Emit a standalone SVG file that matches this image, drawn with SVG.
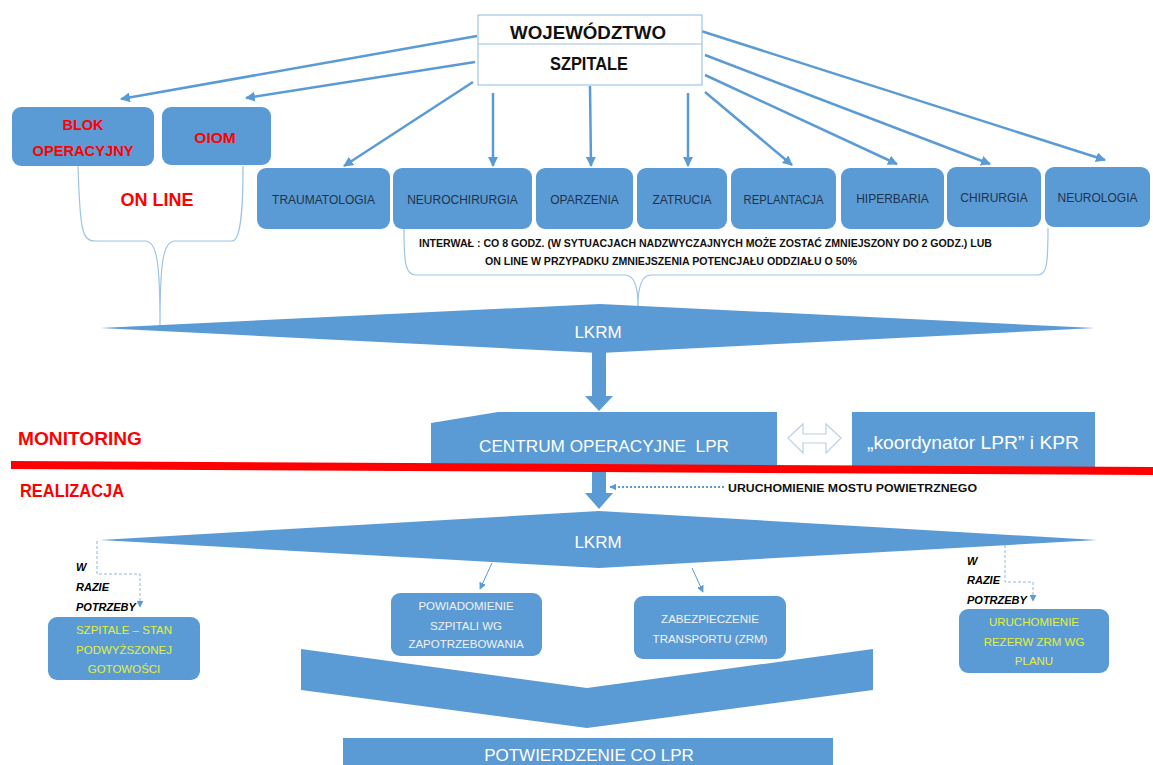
<svg xmlns="http://www.w3.org/2000/svg" width="1153" height="765" viewBox="0 0 1153 765">
<defs>
<style>
.box{fill:#5B9BD5;}
.t{font-family:"Liberation Sans",Arial,sans-serif;}
.dep{font-family:"Liberation Sans",Arial,sans-serif;font-size:12px;fill:#1F3349;text-anchor:middle;}
.red{font-family:"Liberation Sans",Arial,sans-serif;font-weight:bold;fill:#FF0000;}
.wh{font-family:"Liberation Sans",Arial,sans-serif;fill:#FFFFFF;text-anchor:middle;}
.sm{font-family:"Liberation Sans",Arial,sans-serif;font-size:11.5px;fill:#F2F2F2;text-anchor:middle;}
.yl{font-family:"Liberation Sans",Arial,sans-serif;font-size:11.5px;fill:#E2F03A;text-anchor:middle;}
.bi{font-family:"Liberation Sans",Arial,sans-serif;font-size:11px;font-weight:bold;font-style:italic;fill:#000;}
.blk{font-family:"Liberation Sans",Arial,sans-serif;font-weight:bold;fill:#111;}
.conn{stroke:#5B9BD5;stroke-width:2.5;fill:none;marker-end:url(#ah);}
.thin{stroke:#5B9BD5;stroke-width:1;fill:none;marker-end:url(#ahs);}
.dash{stroke:#8DB8E2;stroke-width:1;fill:none;stroke-dasharray:3 2;marker-end:url(#ahs);}
.brace{stroke:#9DC3E6;stroke-width:1.2;fill:none;}
</style>
<marker id="ah" viewBox="0 0 10 10" refX="9" refY="5" markerWidth="4" markerHeight="4" orient="auto"><path d="M0,0 L10,5 L0,10 z" fill="#5B9BD5"/></marker>
<marker id="ahs" viewBox="0 0 10 10" refX="9" refY="5" markerWidth="7" markerHeight="7" markerUnits="userSpaceOnUse" orient="auto"><path d="M0,0 L10,5 L0,10 z" fill="#5B9BD5"/></marker>
</defs>
<rect width="1153" height="765" fill="#FFFFFF"/>

<g id="connectors">
<line class="conn" x1="477" y1="36" x2="121" y2="99"/>
<line class="conn" x1="475" y1="62" x2="246" y2="98"/>
<line class="conn" x1="473" y1="82" x2="344" y2="166"/>
<line class="conn" x1="493" y1="93" x2="493" y2="166"/>
<line class="conn" x1="590" y1="86" x2="591" y2="166"/>
<line class="conn" x1="688" y1="93" x2="688" y2="166"/>
<line class="conn" x1="705" y1="92" x2="792" y2="165"/>
<line class="conn" x1="705" y1="75" x2="897" y2="164"/>
<line class="conn" x1="705" y1="55" x2="990" y2="164"/>
<line class="conn" x1="701" y1="31" x2="1105" y2="160"/>
<path class="brace" d="M78,166 C80,230 82,241 95,241 L145,241 C157,241 160,262 160,326 C160,262 163,241 175,241 L232,241 C242,241 243,200 243,166"/>
<path class="brace" d="M404,229 C404,262 405,275 416,275 L625,275 C635,275 638,288 638,306 C638,288 641,275 651,275 L1038,275 C1047,275 1048,262 1048,228"/>
<polygon fill="#5B9BD5" points="592,352 606,352 606,396 613,396 599,411 585,396 592,396"/>
<polygon fill="#5B9BD5" points="592,463 606,463 606,493 613,493 599,509 585,493 592,493"/>
<polygon fill="#FFFFFF" stroke="#BDD0E4" stroke-width="1.2" points="788,438 803,424 803,434 826,434 826,424 841,438 826,453 826,443 803,443 803,453"/>
<line x1="724" y1="487" x2="610" y2="487" stroke="#5B9BD5" stroke-width="2" stroke-dasharray="2 2" marker-end="url(#ahs)"/>
<line class="thin" x1="492" y1="563" x2="480" y2="589"/>
<line class="thin" x1="692" y1="568" x2="703" y2="592"/>
<path class="dash" d="M97,541 V574 H140 V607"/>
<path class="dash" d="M1005,545 V582 H1033 V601"/>
</g>

<g id="wojewodztwo">
<rect x="478" y="15" width="224" height="70" fill="#FFFFFF" stroke="#9DC3E6" stroke-width="1.2"/>
<line x1="478" y1="44" x2="702" y2="44" stroke="#9DC3E6" stroke-width="1.2"/>
<text class="blk" x="588" y="39" font-size="19" text-anchor="middle" textLength="156" lengthAdjust="spacingAndGlyphs">WOJEWÓDZTWO</text>
<text class="blk" x="589" y="70" font-size="18" text-anchor="middle" textLength="78" lengthAdjust="spacingAndGlyphs">SZPITALE</text>
</g>

<g id="blok">
<rect class="box" x="12" y="107" width="142" height="59" rx="9"/>
<text class="red" x="83" y="130" font-size="14.5" text-anchor="middle">BLOK</text>
<text class="red" x="83" y="156" font-size="14.5" text-anchor="middle" textLength="101" lengthAdjust="spacingAndGlyphs">OPERACYJNY</text>
</g>
<g id="oiom">
<rect class="box" x="162" y="107" width="109" height="58" rx="9"/>
<text class="red" x="215" y="143" font-size="15.5" text-anchor="middle">OIOM</text>
</g>
<g id="online">
<text class="red" x="157" y="206" font-size="18" text-anchor="middle" textLength="73" lengthAdjust="spacingAndGlyphs">ON LINE</text>
</g>

<g id="traumatologia"><rect class="box" x="257" y="168" width="133" height="61" rx="9"/><text class="dep" x="323.5" y="203.5">TRAUMATOLOGIA</text></g>
<g id="neurochirurgia"><rect class="box" x="393" y="168" width="139" height="61" rx="9"/><text class="dep" x="462.5" y="203.5">NEUROCHIRURGIA</text></g>
<g id="oparzenia"><rect class="box" x="536" y="168" width="97" height="61" rx="9"/><text class="dep" x="584.5" y="203.5">OPARZENIA</text></g>
<g id="zatrucia"><rect class="box" x="637" y="168" width="90" height="61" rx="9"/><text class="dep" x="682" y="203.5">ZATRUCIA</text></g>
<g id="replantacja"><rect class="box" x="731" y="168" width="105" height="61" rx="9"/><text class="dep" x="783.5" y="203.5" textLength="80" lengthAdjust="spacingAndGlyphs">REPLANTACJA</text></g>
<g id="hiperbaria"><rect class="box" x="841" y="168" width="103" height="61" rx="9"/><text class="dep" x="892.5" y="202.5">HIPERBARIA</text></g>
<g id="chirurgia"><rect class="box" x="947" y="167" width="94" height="60" rx="9"/><text class="dep" x="994" y="202">CHIRURGIA</text></g>
<g id="neurologia"><rect class="box" x="1045" y="167" width="105" height="60" rx="9"/><text class="dep" x="1097.5" y="202">NEUROLOGIA</text></g>

<g id="interwal">
<text class="blk" x="419" y="247" font-size="10.5" textLength="573" lengthAdjust="spacingAndGlyphs">INTERWAŁ : CO 8 GODZ. (W SYTUACJACH NADZWYCZAJNYCH MOŻE ZOSTAĆ ZMNIEJSZONY DO 2 GODZ.) LUB</text>
<text class="blk" x="485" y="265" font-size="10.5" textLength="372" lengthAdjust="spacingAndGlyphs">ON LINE W PRZYPADKU ZMNIEJSZENIA POTENCJAŁU ODDZIAŁU O 50%</text>
</g>

<g id="lkrm1">
<polygon class="box" points="100,328 600,304 1095,328 600,353"/>
<text class="wh" x="598" y="338" font-size="17">LKRM</text>
</g>

<g id="centrum">
<polygon class="box" points="431,423 498,412 777,412 777,465 431,465"/>
<text class="wh" x="604" y="452" font-size="17" textLength="250" lengthAdjust="spacingAndGlyphs" xml:space="preserve">CENTRUM OPERACYJNE  LPR</text>
</g>
<g id="koordynator">
<rect class="box" x="852" y="412" width="243" height="55"/>
<text class="wh" x="973" y="449" font-size="18" textLength="212" lengthAdjust="spacingAndGlyphs">„koordynator LPR” i KPR</text>
</g>

<g id="divider">
<line x1="11" y1="465" x2="1153" y2="471" stroke="#FF0000" stroke-width="8"/>
<text class="red" x="18" y="445" font-size="19" textLength="124" lengthAdjust="spacingAndGlyphs">MONITORING</text>
<text class="red" x="20" y="497" font-size="18" textLength="104" lengthAdjust="spacingAndGlyphs">REALIZACJA</text>
</g>

<g id="most">
<text class="blk" x="728" y="492" font-size="11.5" textLength="249" lengthAdjust="spacingAndGlyphs">URUCHOMIENIE MOSTU POWIETRZNEGO</text>
</g>

<g id="lkrm2">
<polygon class="box" points="100,540 599,511 1097,540 599,568"/>
<text class="wh" x="598" y="548" font-size="17">LKRM</text>
</g>

<g id="wrazie1">
<text class="bi" x="76" y="571">W</text>
<text class="bi" x="76" y="591">RAZIE</text>
<text class="bi" x="76" y="611">POTRZEBY</text>
</g>
<g id="szpitale-stan">
<rect class="box" x="48" y="617" width="152" height="63" rx="9"/>
<text class="yl" x="124" y="634">SZPITALE – STAN</text>
<text class="yl" x="124" y="654">PODWYŻSZONEJ</text>
<text class="yl" x="124" y="673">GOTOWOŚCI</text>
</g>

<g id="powiadomienie">
<rect class="box" x="391" y="593" width="151" height="63" rx="9"/>
<text class="sm" x="466" y="610">POWIADOMIENIE</text>
<text class="sm" x="466" y="630">SZPITALI WG</text>
<text class="sm" x="466" y="648">ZAPOTRZEBOWANIA</text>
</g>

<g id="zabezpieczenie">
<rect class="box" x="634" y="596" width="152" height="63" rx="9"/>
<text class="sm" x="710" y="623">ZABEZPIECZENIE</text>
<text class="sm" x="710" y="643">TRANSPORTU (ZRM)</text>
</g>

<g id="wrazie2">
<text class="bi" x="967" y="565">W</text>
<text class="bi" x="967" y="584">RAZIE</text>
<text class="bi" x="967" y="604">POTRZEBY</text>
</g>
<g id="rezerwy">
<rect class="box" x="959" y="609" width="150" height="64" rx="9"/>
<text class="yl" x="1034" y="626">URUCHOMIENIE</text>
<text class="yl" x="1034" y="646">REZERW ZRM WG</text>
<text class="yl" x="1034" y="665">PLANU</text>
</g>

<g id="chevron">
<polygon class="box" points="301,649 587,688 873,649 873,690 587,728 301,690"/>
</g>

<g id="potwierdzenie">
<rect class="box" x="343" y="738" width="490" height="30"/>
<text class="wh" x="589" y="761" font-size="17">POTWIERDZENIE CO LPR</text>
</g>
</svg>
